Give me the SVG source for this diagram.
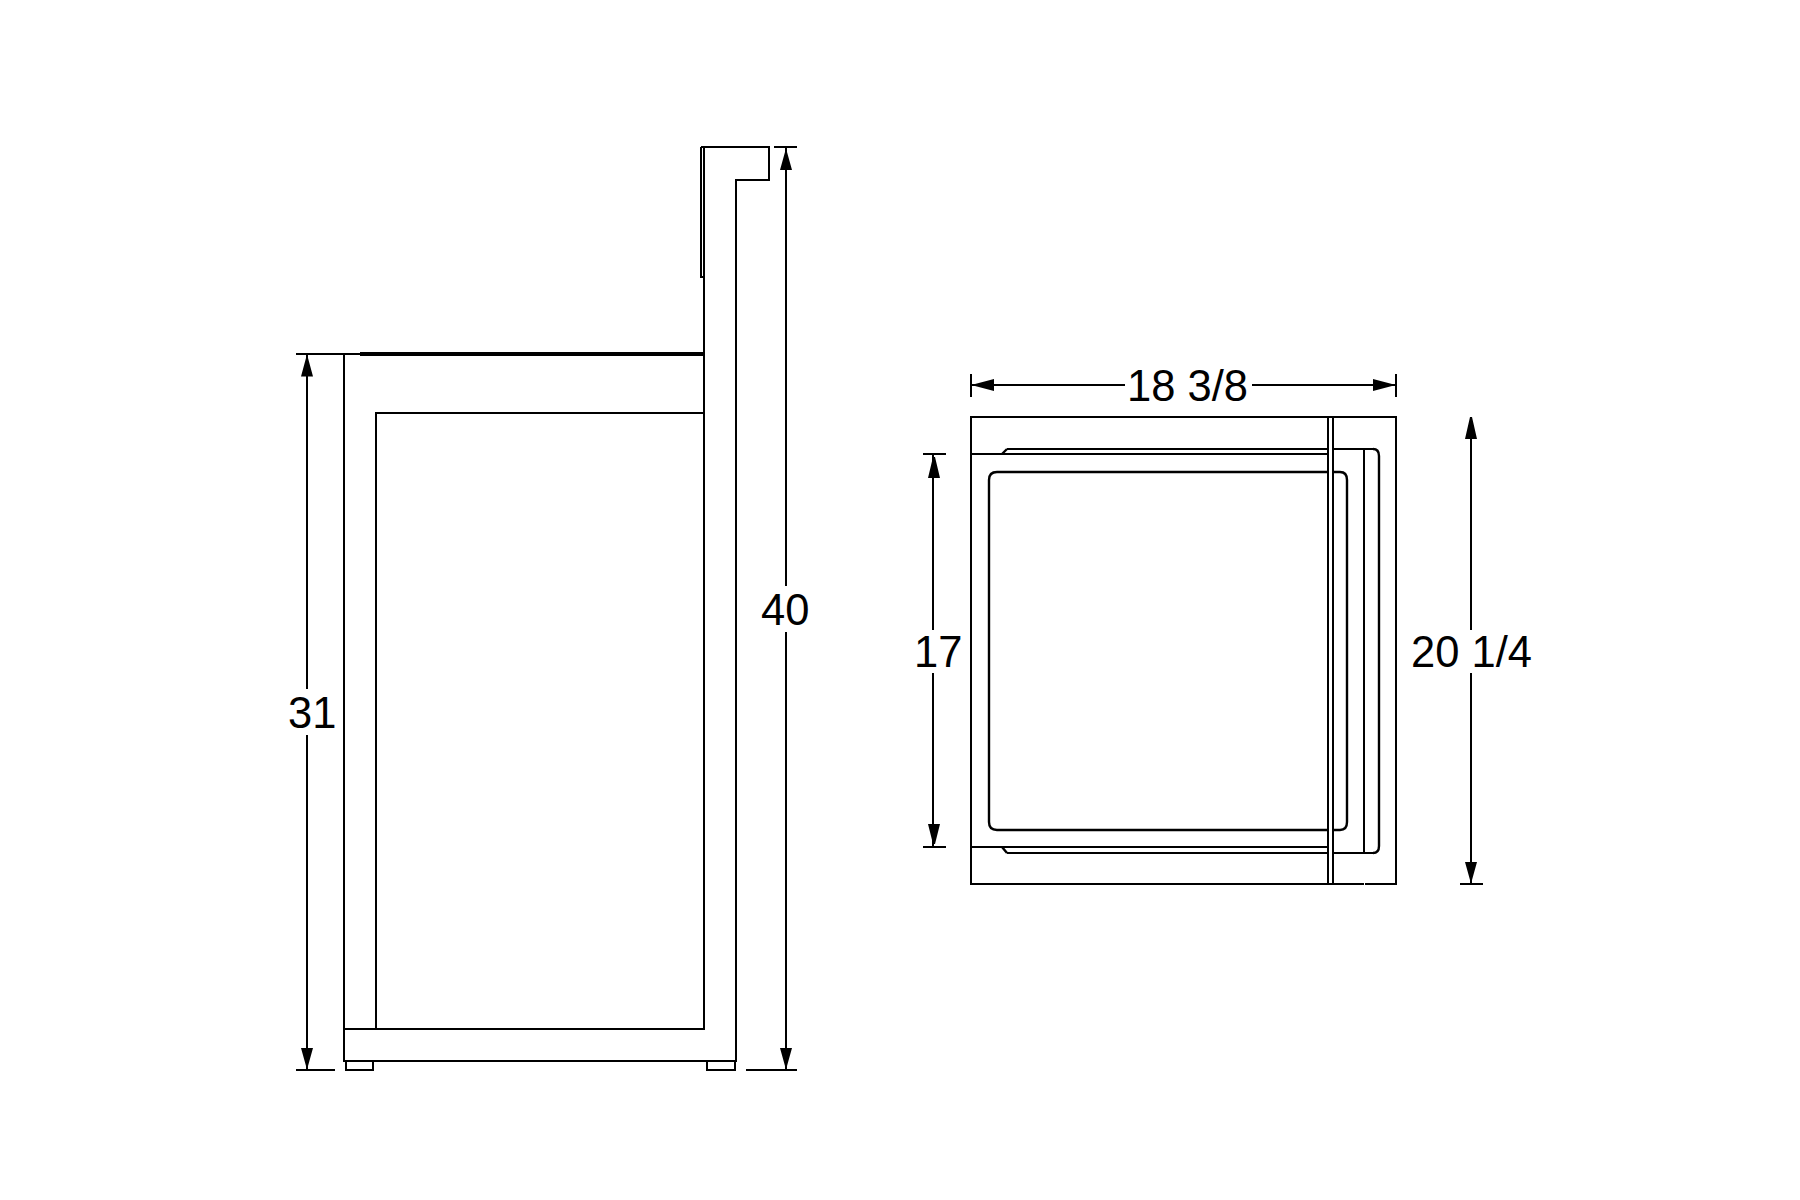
<svg xmlns="http://www.w3.org/2000/svg" width="1800" height="1200" viewBox="0 0 1800 1200">
<style>
.l{fill:none;stroke:#000;stroke-width:2.400;shape-rendering:crispEdges}
.c{fill:none;stroke:#000;stroke-width:2.400}
.a{fill:#000;stroke:none}
text{font-family:"Liberation Sans",Arial,sans-serif;font-size:43.500px;fill:#000}
</style>
<rect width="1800" height="1200" fill="#fff"/>
<g id="side-view">
<path class="l" d="M701 147H769V180H736V1061H344V354M704 147V1029H376V413H704"/>
<path class="l" d="M701 147V277H704"/>
<path class="l" d="M344 1029H376"/>
<path class="l" d="M346 1061V1070H373V1061M707 1061V1070H735V1061"/>
<rect x="360" y="352" width="344" height="4" fill="#000"/>
<path class="l" d="M350 354H360"/>
</g>
<g id="front-view">
<rect class="l" x="971" y="417" width="425" height="467"/>
<path class="l" d="M971 454H1328M971 847H1328M1007 449H1328M1007 853H1328M1333 449H1373M1333 853H1373M1364 449V853M1328 417V884M1333 417V884"/>
<path class="c" d="M1002 454L1007 449M1002 847L1007 853M1373 449Q1379 449 1379 456V846Q1379 853 1373 853"/>
<path class="c" d="M1328 472H997Q989 472 989 480V822Q989 830 997 830H1328M1333 472H1340Q1347 472 1347 480V822Q1347 830 1340 830H1333"/>
<path d="M1364 884h1" stroke="#fff" stroke-width="3.500"/>
</g>
<g id="dimensions">
<path class="l" d="M296 354H350M296 1070H335M307 354V689M307 735V1070"/>
<path class="a" d="M306 358H308L313 376.500H301ZM306 1066H308L313 1048H301Z"/>
<path class="l" d="M774 147H797M746 1070H797M786 147V586M786 632V1070"/>
<path class="a" d="M785 152H787L792 170H780ZM785 1066H787L792 1048H780Z"/>
<path class="l" d="M971 374V397M1396 374V397M971 385H1125M1252 385H1396"/>
<path class="a" d="M975 384V386L994 391V379ZM1392 384V386L1373 391V379Z"/>
<path class="l" d="M923 454H946M923 847H946M933 454V630M933 673V847"/>
<path class="a" d="M933 457H935L940 478H928ZM933 844H935L940 824H928Z"/>
<path class="l" d="M1460 884H1483M1471 417V630M1471 673V884"/>
<path class="a" d="M1470 417H1472L1477 439H1465ZM1470 880H1472L1477 862H1465Z"/>
<text x="1127" y="401">18 3/8</text>
<text x="1411" y="667">20 1/4</text>
<text x="914" y="667">17</text>
<text x="761" y="625">40</text>
<text x="288" y="728">31</text>
</g>
</svg>
